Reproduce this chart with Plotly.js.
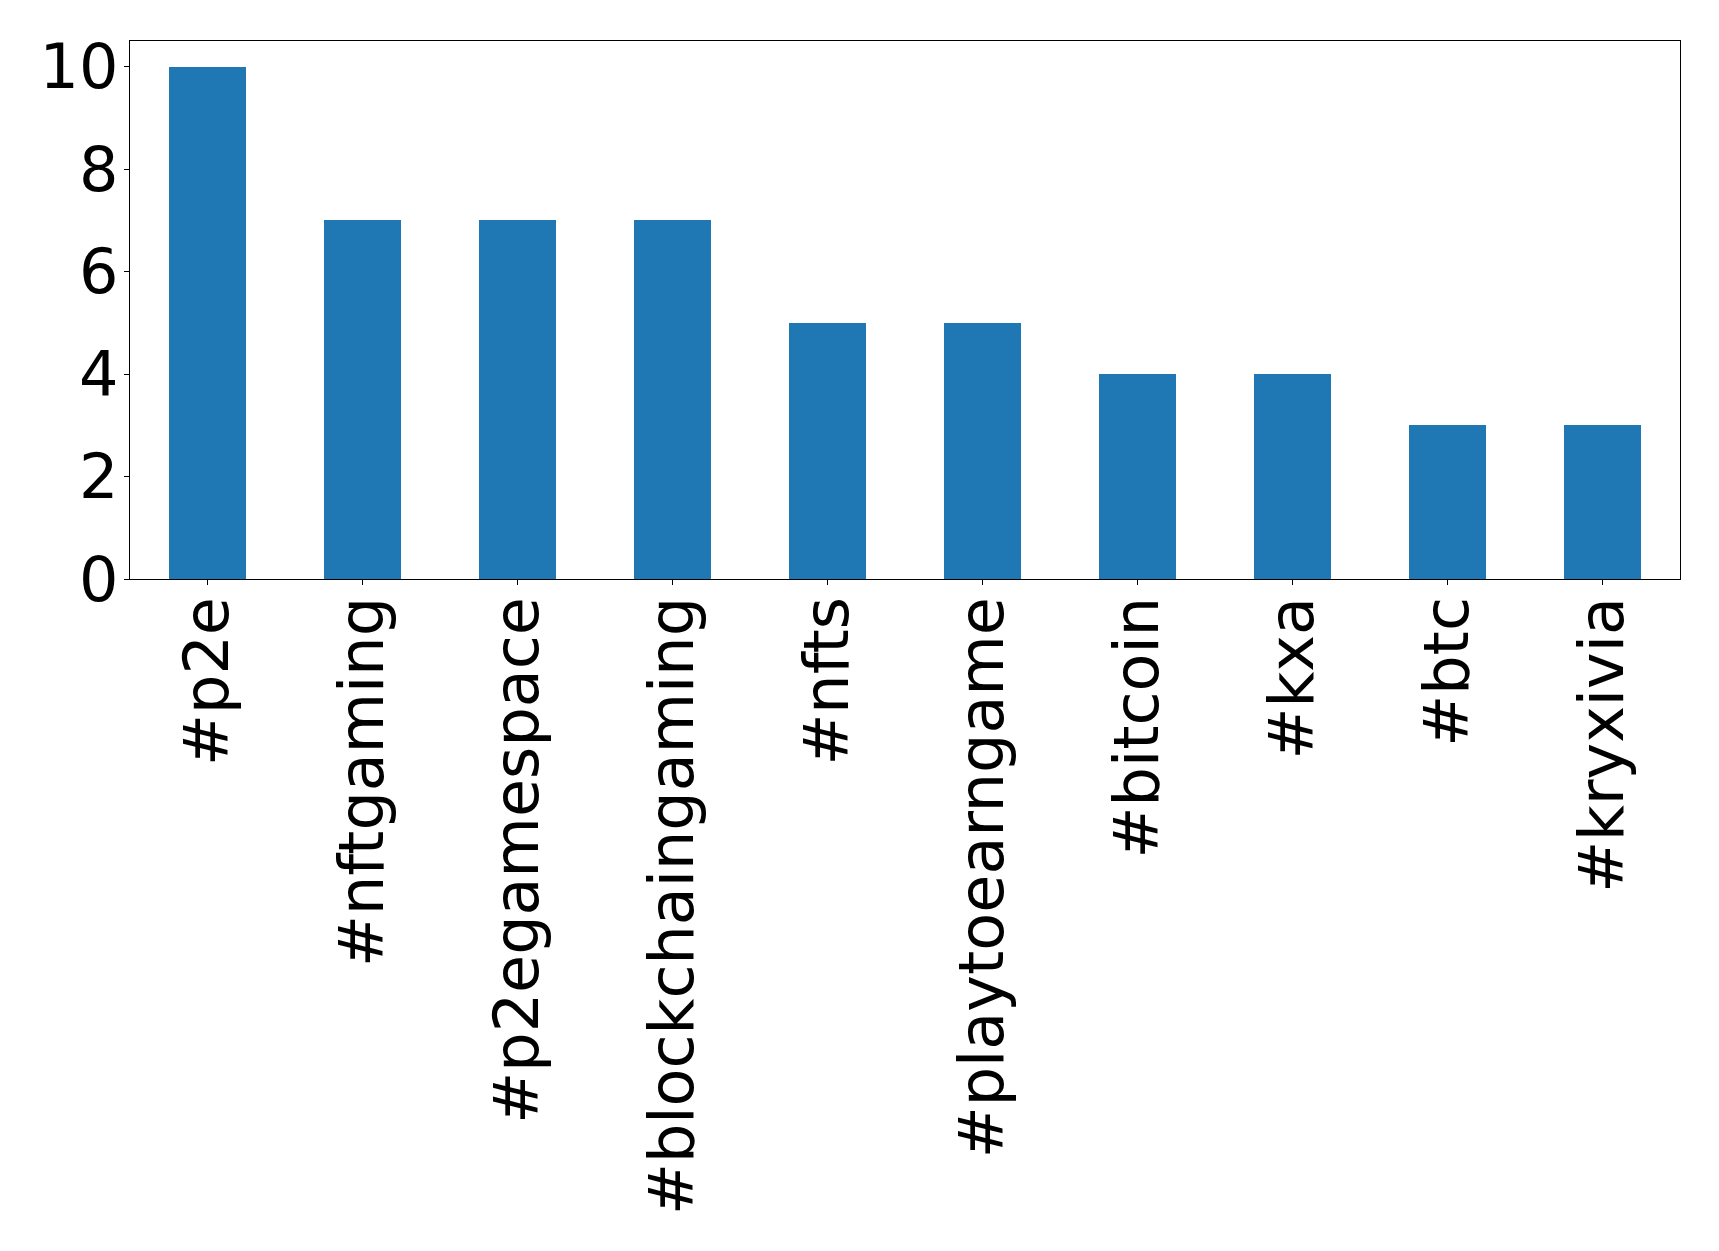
<!DOCTYPE html>
<html>
<head>
<meta charset="utf-8">
<script src="https://cdn.plot.ly/plotly-3.0.1.min.js"></script>
<style>html,body{margin:0;padding:0;background:#fff;}#chart{width:1719px;height:1251px;}</style>
</head>
<body>
<div id="chart"></div>
<script>
const categories = ["#p2e", "#nftgaming", "#p2egamespace", "#blockchaingaming", "#nfts", "#playtoearngame", "#bitcoin", "#kxa", "#btc", "#kryxivia"];
const counts = [10, 7, 7, 7, 5, 5, 4, 4, 3, 3];
const yTicks = [0, 2, 4, 6, 8, 10];

const trace = {
  type: 'bar',
  x: categories.map((c, i) => i),
  y: counts,
  width: 0.5,
  marker: {color: '#1f77b4', line: {width: 0}},
  hoverinfo: 'x+y'
};

const layout = {
  width: 1719,
  height: 1251,
  margin: {l: 129.5, r: 39.3, t: 40.5, b: 672, pad: 0},
  paper_bgcolor: '#ffffff',
  plot_bgcolor: '#ffffff',
  font: {family: 'DejaVu Sans', size: 62, color: '#000000'},
  showlegend: false,
  bargap: 0,
  xaxis: {
    range: [-0.5, 9.5],
    tickmode: 'array',
    tickvals: categories.map((c, i) => i),
    ticktext: categories,
    tickangle: -90,
    ticklabelstandoff: -13,
    showgrid: false,
    zeroline: false,
    showline: true,
    mirror: true,
    linecolor: '#000000',
    linewidth: 1.2,
    ticks: 'outside',
    ticklen: 5,
    tickwidth: 1,
    tickcolor: '#000000',
    tickfont: {family: 'DejaVu Sans', size: 62, color: '#000000'}
  },
  yaxis: {
    range: [0, 10.5],
    tickmode: 'array',
    tickvals: yTicks,
    ticktext: yTicks.map(String),
    ticklabelstandoff: -7,
    showgrid: false,
    zeroline: false,
    showline: true,
    mirror: true,
    linecolor: '#000000',
    linewidth: 1.2,
    ticks: 'outside',
    ticklen: 5,
    tickwidth: 1,
    tickcolor: '#000000',
    tickfont: {family: 'DejaVu Sans', size: 62, color: '#000000'}
  }
};

Plotly.newPlot('chart', [trace], layout, {displayModeBar: false, staticPlot: true});
</script>
</body>
</html>
